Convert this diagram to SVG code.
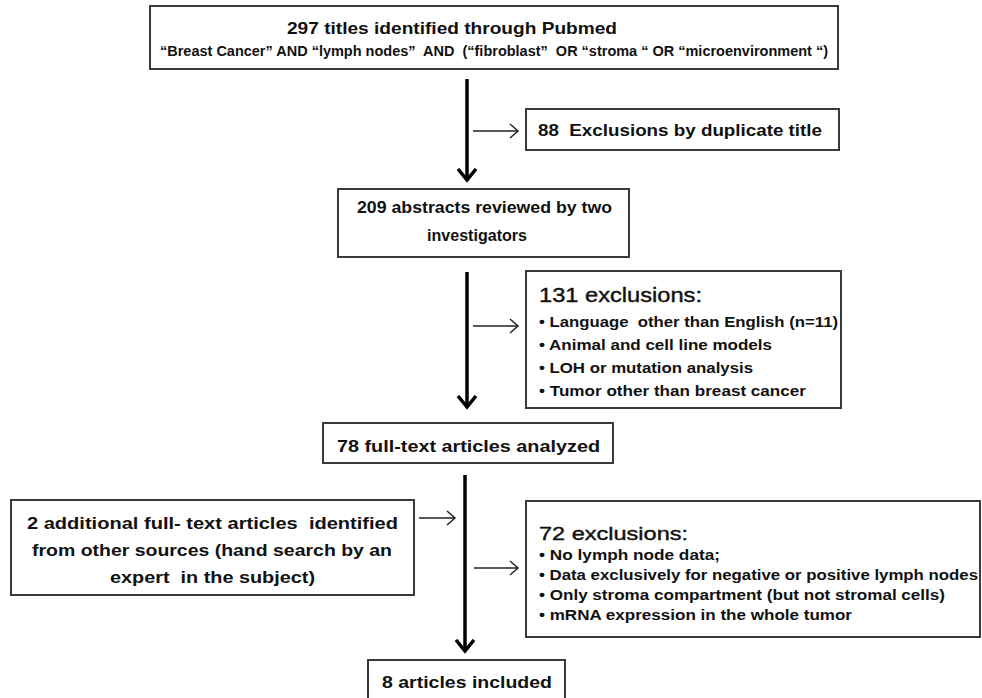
<svg xmlns="http://www.w3.org/2000/svg" width="982" height="698" viewBox="0 0 982 698">
<style>
.box{fill:#fff;stroke:#3a3a3a;stroke-width:2}
.t{font-family:"Liberation Sans",Arial,sans-serif;font-weight:bold;fill:#111}
.h{font-family:"Liberation Sans",Arial,sans-serif;font-weight:normal;fill:#111;stroke:#111;stroke-width:0.4}
.main{stroke:#000;stroke-width:3.5;fill:none}
.side{stroke:#222;stroke-width:1.5;fill:none}
</style>
<defs>
<marker id="bigHead" markerUnits="userSpaceOnUse" markerWidth="24" markerHeight="24" refX="12" refY="12" orient="auto" viewBox="0 0 24 24">
<path d="M1,3 L12,12 L1,21" fill="none" stroke="#000" stroke-width="3.5"/>
</marker>
<marker id="smallHead" markerUnits="userSpaceOnUse" markerWidth="16" markerHeight="16" refX="13" refY="8" orient="auto" viewBox="0 0 16 16">
<path d="M5,1 L13,8 L5,15" fill="none" stroke="#222" stroke-width="1.5"/>
</marker>
</defs>
<rect width="982" height="698" fill="#fff"/>

<g id="connectors">
<line class="main" x1="467" y1="79" x2="467" y2="180" marker-end="url(#bigHead)"/>
<line class="main" x1="467" y1="272" x2="467" y2="407" marker-end="url(#bigHead)"/>
<line class="main" x1="465" y1="475" x2="465" y2="651" marker-end="url(#bigHead)"/>
<line class="side" x1="473" y1="131" x2="518" y2="131" marker-end="url(#smallHead)"/>
<line class="side" x1="473" y1="326" x2="518" y2="326" marker-end="url(#smallHead)"/>
<line class="side" x1="419" y1="518" x2="455" y2="518" marker-end="url(#smallHead)"/>
<line class="side" x1="474" y1="568" x2="518" y2="568" marker-end="url(#smallHead)"/>
</g>

<g id="n297">
<rect class="box" x="150" y="6" width="688" height="63"/>
<text class="t" x="452" y="34" font-size="17" text-anchor="middle" textLength="330" lengthAdjust="spacingAndGlyphs">297 titles identified through Pubmed</text>
<text class="t" x="494" y="56" font-size="14.5" text-anchor="middle" textLength="668" lengthAdjust="spacingAndGlyphs" xml:space="preserve">“Breast Cancer” AND “lymph nodes”  AND  (“fibroblast”  OR “stroma “ OR “microenvironment “)</text>
</g>

<g id="n88">
<rect class="box" x="526" y="109" width="313" height="41"/>
<text class="t" x="538" y="136" font-size="17" textLength="284" lengthAdjust="spacingAndGlyphs" xml:space="preserve">88  Exclusions by duplicate title</text>
</g>

<g id="n209">
<rect class="box" x="338" y="189" width="291" height="68"/>
<text class="t" x="484.5" y="213" font-size="17" text-anchor="middle" textLength="255" lengthAdjust="spacingAndGlyphs">209 abstracts reviewed by two</text>
<text class="t" x="477" y="241" font-size="17" text-anchor="middle" textLength="100" lengthAdjust="spacingAndGlyphs">investigators</text>
</g>

<g id="n131">
<rect class="box" x="526" y="271" width="315" height="137"/>
<text class="h" x="539" y="302" font-size="20" textLength="163" lengthAdjust="spacingAndGlyphs">131 exclusions:</text>
<text class="t" x="539" y="327" font-size="15" textLength="299" lengthAdjust="spacingAndGlyphs" xml:space="preserve">• Language  other than English (n=11)</text>
<text class="t" x="539" y="350" font-size="15" textLength="233" lengthAdjust="spacingAndGlyphs">• Animal and cell line models</text>
<text class="t" x="539" y="373" font-size="15" textLength="214" lengthAdjust="spacingAndGlyphs">• LOH or mutation analysis</text>
<text class="t" x="539" y="396" font-size="15" textLength="267" lengthAdjust="spacingAndGlyphs">• Tumor other than breast cancer</text>
</g>

<g id="n78">
<rect class="box" x="323" y="423" width="290" height="40"/>
<text class="t" x="468.5" y="452" font-size="17" text-anchor="middle" textLength="263" lengthAdjust="spacingAndGlyphs">78 full-text articles analyzed</text>
</g>

<g id="n2">
<rect class="box" x="11" y="500" width="403" height="95"/>
<text class="t" x="212.5" y="529" font-size="17" text-anchor="middle" textLength="371" lengthAdjust="spacingAndGlyphs" xml:space="preserve">2 additional full- text articles  identified</text>
<text class="t" x="212" y="556" font-size="17" text-anchor="middle" textLength="360" lengthAdjust="spacingAndGlyphs">from other sources (hand search by an</text>
<text class="t" x="212.5" y="583" font-size="17" text-anchor="middle" textLength="205" lengthAdjust="spacingAndGlyphs" xml:space="preserve">expert  in the subject)</text>
</g>

<g id="n72">
<rect class="box" x="526" y="501" width="454" height="136"/>
<text class="h" x="539" y="540" font-size="19" textLength="149" lengthAdjust="spacingAndGlyphs">72 exclusions:</text>
<text class="t" x="539" y="560" font-size="14" textLength="181" lengthAdjust="spacingAndGlyphs">• No lymph node data;</text>
<text class="t" x="539" y="580" font-size="14" textLength="439" lengthAdjust="spacingAndGlyphs">• Data exclusively for negative or positive lymph nodes</text>
<text class="t" x="539" y="600" font-size="14" textLength="406" lengthAdjust="spacingAndGlyphs">• Only stroma compartment (but not stromal cells)</text>
<text class="t" x="539" y="620" font-size="14" textLength="313" lengthAdjust="spacingAndGlyphs">• mRNA expression in the whole tumor</text>
</g>

<g id="n8">
<rect class="box" x="368" y="660" width="197" height="42"/>
<text class="t" x="467" y="688" font-size="17" text-anchor="middle" textLength="170" lengthAdjust="spacingAndGlyphs">8 articles included</text>
</g>
</svg>
